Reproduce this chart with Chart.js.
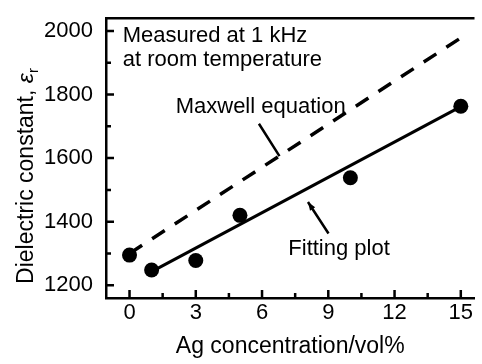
<!DOCTYPE html>
<html>
<head>
<meta charset="utf-8">
<script src="https://cdn.jsdelivr.net/npm/chart.js@4"></script>
<style>
  html, body { margin: 0; padding: 0; background: #fff; }
  #contenedor { width: 482px; height: 364px; }
</style>
</head>
<body>
<div id="contenedor"><canvas id="grafico"></canvas></div>
<script>
// ==================== DATOS ====================
const concentracion = [0, 1, 3, 5, 10, 15];
const constanteMedida = [1295, 1248, 1278, 1420, 1538, 1763];
const ajusteX = [1, 15];
const ajusteY = [1243, 1762];
const maxwellX = [0, 15];
const maxwellY = [1300, 1978];
const ticksX = [0, 3, 6, 9, 12, 15];
const ticksXMenores = [1.5, 4.5, 7.5, 10.5, 13.5];
const ticksY = [1200, 1400, 1600, 1800, 2000];
const ticksYMenores = [1300, 1500, 1700, 1900];

const FUENTE = "'Liberation Sans', Arial, sans-serif";

const aPuntos = (xs, ys) => xs.map((x, i) => ({ x: x, y: ys[i] }));

// ticks hacia adentro + marco superior
const pluginEjes = {
    id: 'ejes',
    afterDraw(chart) {
        const ctx = chart.ctx;
        const area = chart.chartArea;
        const sx = chart.scales.x;
        const sy = chart.scales.y;
        ctx.save();
        ctx.strokeStyle = '#000';
        ctx.lineWidth = 2.5;
        ctx.beginPath();
        ticksX.forEach(v => { const p = sx.getPixelForValue(v); ctx.moveTo(p, area.bottom); ctx.lineTo(p, area.bottom - 8); });
        ticksXMenores.forEach(v => { const p = sx.getPixelForValue(v); ctx.moveTo(p, area.bottom); ctx.lineTo(p, area.bottom - 5); });
        ticksY.forEach(v => { const p = sy.getPixelForValue(v); ctx.moveTo(area.left, p); ctx.lineTo(area.left + 8, p); });
        ticksYMenores.forEach(v => { const p = sy.getPixelForValue(v); ctx.moveTo(area.left, p); ctx.lineTo(area.left + 5, p); });
        ctx.stroke();

        // marco superior
        ctx.lineWidth = 2.5;
        ctx.beginPath();
        ctx.moveTo(area.left - 1, area.top);
        ctx.lineTo(area.right, area.top);
        ctx.stroke();
        ctx.restore();
    }
};

// textos y flechas
const pluginNotas = {
    id: 'notas',
    afterDraw(chart) {
        const ctx = chart.ctx;
        const sx = chart.scales.x;
        const sy = chart.scales.y;
        const px = v => sx.getPixelForValue(v);
        const py = v => sy.getPixelForValue(v);
        ctx.save();
        ctx.fillStyle = '#000';
        ctx.strokeStyle = '#000';
        ctx.font = '22px ' + FUENTE;
        ctx.textAlign = 'left';
        ctx.textBaseline = 'middle';
        ctx.fillText('Measured at 1 kHz', px(-0.31), py(1985));
        ctx.fillText('at room temperature', px(-0.31), py(1908));
        ctx.fillText('Maxwell equation', px(2.09), py(1760));
        ctx.fillText('Fitting plot', px(7.19), py(1314));

        ctx.lineWidth = 2.5;
        ctx.beginPath();
        ctx.moveTo(px(5.86), py(1708));
        ctx.lineTo(px(6.79), py(1606));
        ctx.moveTo(px(9.01), py(1363));
        ctx.lineTo(px(8.08), py(1462));
        ctx.stroke();

        // punta de flecha
        const x1 = px(8.08), y1 = py(1462);
        const ang = Math.atan2(y1 - py(1363), x1 - px(9.01));
        ctx.beginPath();
        ctx.moveTo(x1, y1);
        ctx.lineTo(x1 - 9 * Math.cos(ang - 0.35), y1 - 9 * Math.sin(ang - 0.35));
        ctx.lineTo(x1 - 9 * Math.cos(ang + 0.35), y1 - 9 * Math.sin(ang + 0.35));
        ctx.closePath();
        ctx.fill();

        // titulo eje Y con subindice
        const principal = 'Dielectric constant, ';
        ctx.font = '23px ' + FUENTE;
        const w1 = ctx.measureText(principal).width;
        ctx.font = 'italic 23px ' + FUENTE;
        const w2 = ctx.measureText('ε').width;
        ctx.font = '15px ' + FUENTE;
        const w3 = ctx.measureText('r').width;
        const total = w1 + w2 + w3;
        ctx.translate(33, 176);
        ctx.rotate(-Math.PI / 2);
        ctx.textBaseline = 'alphabetic';
        let cx = -total / 2;
        ctx.font = '23px ' + FUENTE;
        ctx.fillText(principal, cx, 0);
        cx += w1;
        ctx.font = 'italic 23px ' + FUENTE;
        ctx.fillText('ε', cx, 0);
        cx += w2;
        ctx.font = '15px ' + FUENTE;
        ctx.fillText('r', cx, 5);
        ctx.restore();
    }
};

new Chart(document.getElementById('grafico'), {
    type: 'scatter',
    data: {
        datasets: [
            {
                label: 'Medido',
                data: aPuntos(concentracion, constanteMedida),
                showLine: false,
                pointRadius: 7.5,
                pointHoverRadius: 7.5,
                pointBackgroundColor: '#000',
                pointBorderColor: '#000',
                pointBorderWidth: 0
            },
            {
                label: 'Fitting plot',
                data: aPuntos(ajusteX, ajusteY),
                showLine: true,
                borderColor: '#000',
                borderWidth: 3,
                pointRadius: 0,
                tension: 0
            },
            {
                label: 'Maxwell equation',
                data: aPuntos(maxwellX, maxwellY),
                showLine: true,
                borderColor: '#000',
                borderWidth: 3.5,
                borderDash: [15, 12],
                pointRadius: 0,
                tension: 0
            }
        ]
    },
    options: {
        responsive: true,
        maintainAspectRatio: false,
        animation: false,
        events: [],
        layout: { padding: { top: 12, right: 0, left: 0, bottom: 0 } },
        plugins: { legend: { display: false }, tooltip: { enabled: false } },
        scales: {
            x: {
                type: 'linear',
                min: -1.065,
                max: 15.62,
                afterBuildTicks: s => { s.ticks = ticksX.map(v => ({ value: v })); },
                afterFit: s => { s.height = 66; },
                grid: { display: false },
                border: { display: true, color: '#000', width: 2.5 },
                ticks: { color: '#000', font: { family: FUENTE, size: 22 }, padding: -6, maxRotation: 0, callback: v => String(v) },
                title: {
                    display: true,
                    text: 'Ag concentration/vol%',
                    color: '#000',
                    font: { family: FUENTE, size: 23 },
                    padding: { top: 0, bottom: 4 }
                }
            },
            y: {
                type: 'linear',
                min: 1160,
                max: 2040,
                afterBuildTicks: s => { s.ticks = ticksY.map(v => ({ value: v })); },
                afterFit: s => { s.width = 106; },
                grid: { display: false },
                border: { display: true, color: '#000', width: 2.5 },
                ticks: { color: '#000', font: { family: FUENTE, size: 22 }, padding: 5, callback: v => String(v) }
            }
        }
    },
    plugins: [pluginEjes, pluginNotas]
});
</script>
</body>
</html>
